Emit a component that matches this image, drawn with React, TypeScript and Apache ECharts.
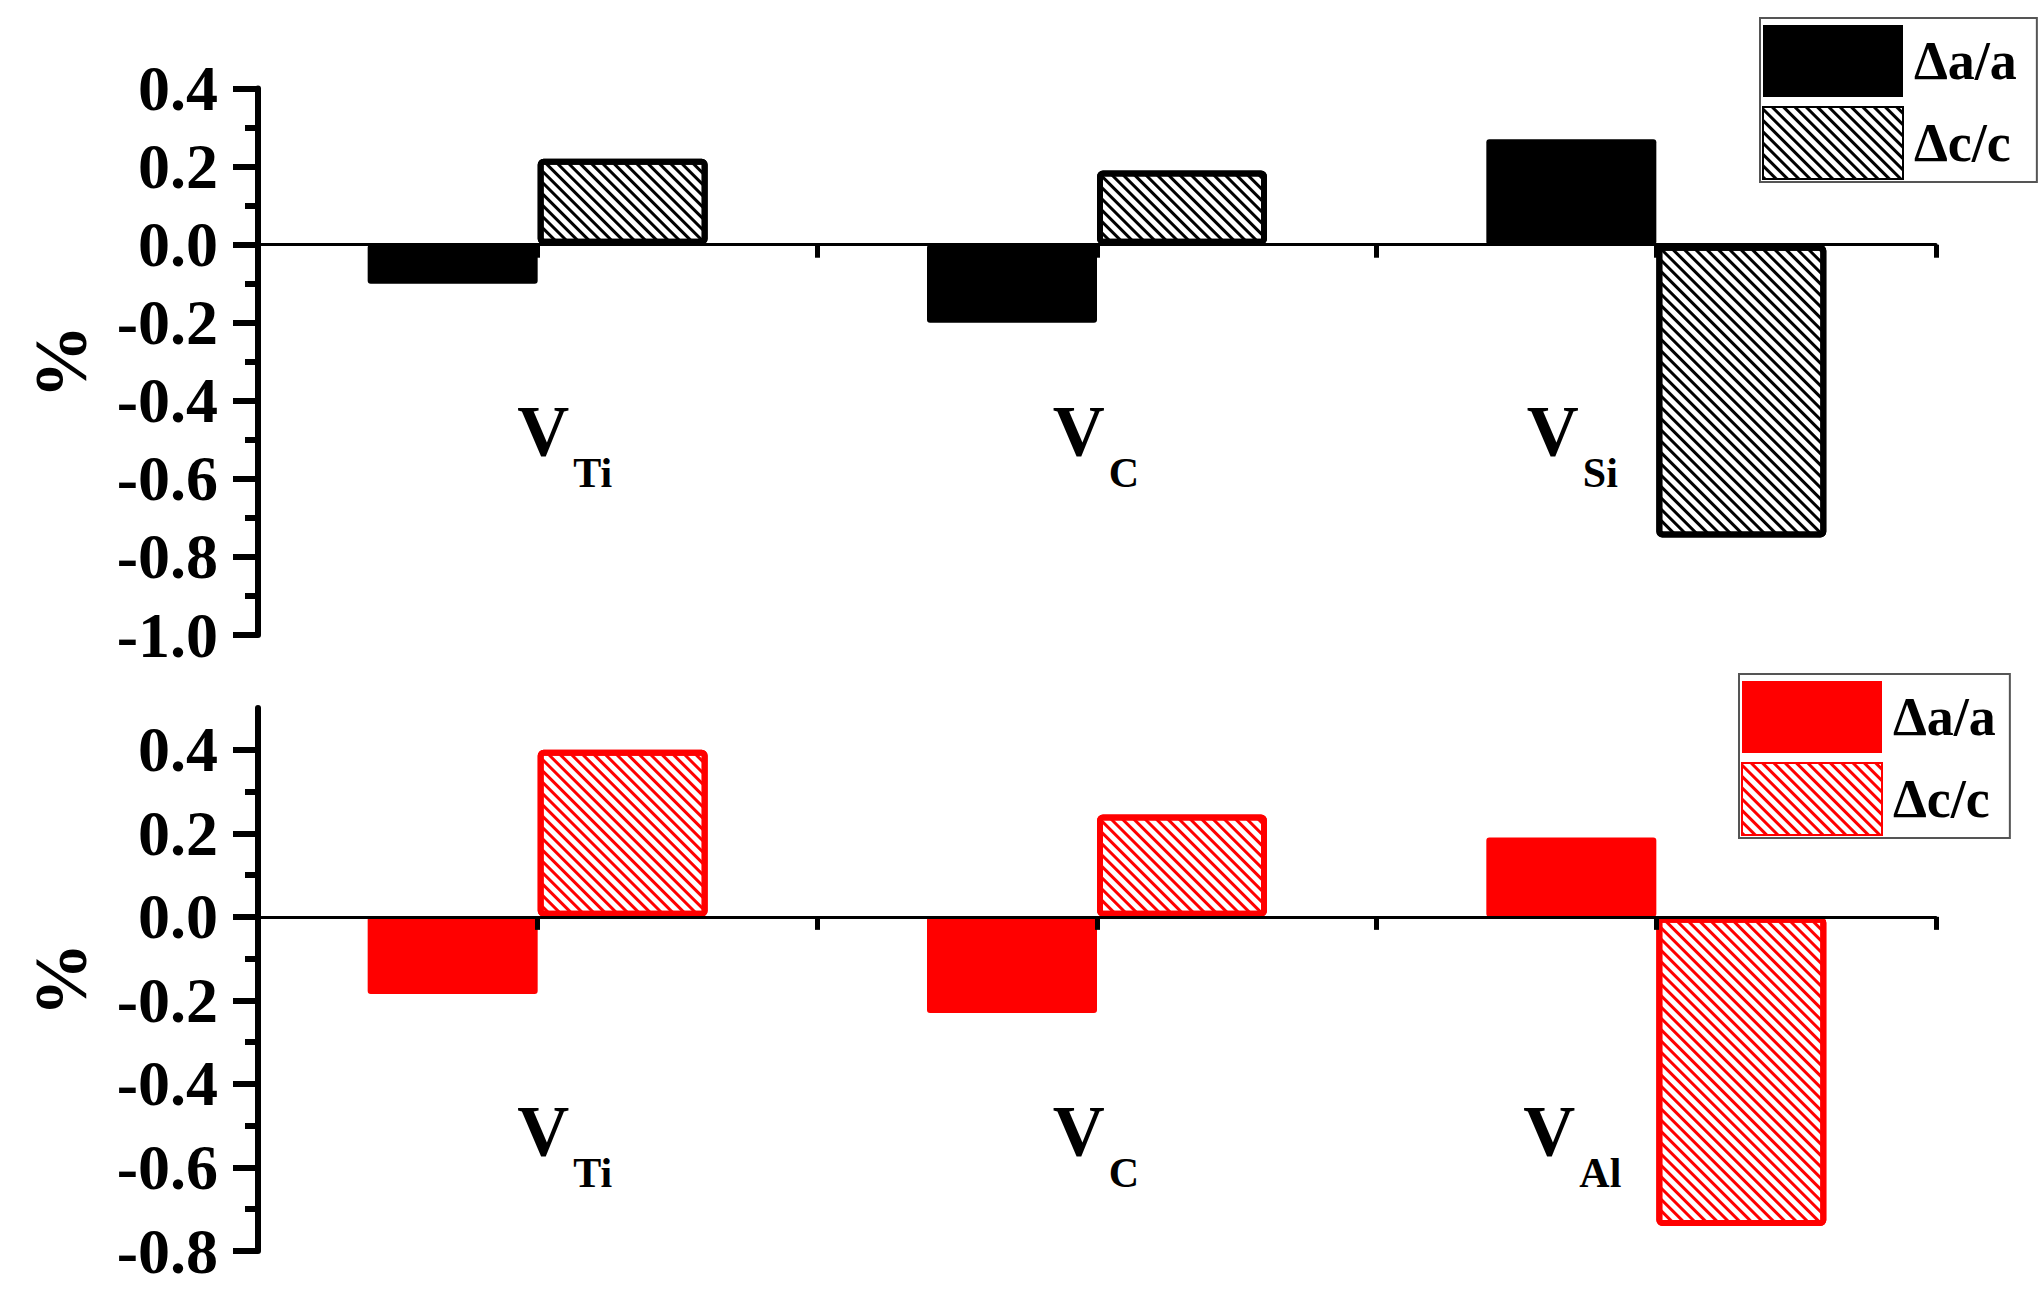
import React, { useEffect, useRef } from "react";
import * as echarts from "echarts";

// ---- data ----
const seriesNames = ["Δa/a", "Δc/c"];
const topCategories = ["Ti", "C", "Si"];
const bottomCategories = ["Ti", "C", "Al"];
const topDeltaA = [-0.1, -0.2, 0.27];
const topDeltaC = [0.22, 0.19, -0.75];
const bottomDeltaA = [-0.185, -0.23, 0.19];
const bottomDeltaC = [0.4, 0.245, -0.74];
const topYMinorTicks = [-0.9, -0.7, -0.5, -0.3, -0.1, 0.1, 0.3];
const bottomYTicks = [-0.8, -0.6, -0.4, -0.2, 0, 0.2, 0.4];
const bottomYMinorTicks = [-0.7, -0.5, -0.3, -0.1, 0.1, 0.3];

// ---- style ----
const FONT = '"Times New Roman", "Liberation Serif", serif';
const RED = "#ff0000";
const BLACK = "#000000";
// per-category label shifts (leading / trailing padding)
const labelPadLeft = [54, 0, 0];
const labelPadRight = [0, 2, 168];

const hatch = (color: string) => ({
  symbol: "rect",
  symbolSize: 1,
  color,
  dashArrayX: [1, 0],
  dashArrayY: [3, 5],
  rotation: Math.PI / 4,
});

const richFor = () => {
  const rich: any = {};
  for (let i = 0; i < 3; i++) {
    rich["v" + i] = {
      fontFamily: FONT,
      fontWeight: "bold",
      fontSize: 72,
      lineHeight: 72,
      color: BLACK,
      verticalAlign: "top",
      padding: [0, 0, 0, labelPadLeft[i]],
    };
    rich["s" + i] = {
      fontFamily: FONT,
      fontWeight: "bold",
      fontSize: 42,
      lineHeight: 42,
      color: BLACK,
      verticalAlign: "top",
      padding: [57, labelPadRight[i], 0, 4],
    };
  }
  return rich;
};

// category axis drawing the zero line
const catAxis = (gridIndex: number, data: string[], yIndex: number) => ({
  type: "category",
  gridIndex,
  data,
  position: "bottom",
  z: 10,
  axisLine: { show: true, onZero: true, onZeroAxisIndex: yIndex, lineStyle: { color: BLACK, width: 3 } },
  axisTick: { show: false },
  splitLine: { show: false },
  axisLabel: { show: false },
});

// category axis at the grid bottom that only carries the labels
const labelAxis = (gridIndex: number, data: string[], margin: number) => ({
  type: "category",
  gridIndex,
  data,
  position: "bottom",
  z: 10,
  axisLine: { show: false, onZero: false },
  axisTick: { show: false },
  splitLine: { show: false },
  axisLabel: {
    interval: 0,
    margin,
    formatter: (v: string, i: number) => `{v${i}|V}{s${i}|${v}}`,
    rich: richFor(),
  },
});

// value axis over the categories for the small downward ticks on the zero line
const tickAxis = (gridIndex: number, yIndex: number) => ({
  type: "value",
  gridIndex,
  position: "bottom",
  min: 0,
  max: 3,
  interval: 0.5,
  z: 10,
  axisLine: { show: false, onZero: true, onZeroAxisIndex: yIndex },
  axisTick: { show: true, length: 13, lineStyle: { color: BLACK, width: 5 } },
  axisLabel: { show: false },
  splitLine: { show: false },
});

const yLabel = {
  fontFamily: FONT,
  fontWeight: "bold",
  fontSize: 64,
  color: BLACK,
  margin: 40,
  formatter: (v: number) => v.toFixed(1),
};

const yName = {
  name: "%",
  nameLocation: "middle",
  nameGap: 160,
  nameRotate: 90,
  nameTextStyle: { fontFamily: FONT, fontWeight: "bold", fontSize: 74, color: BLACK },
};

const minorYAxis = (gridIndex: number, min: number, max: number, values: number[]) => ({
  type: "value",
  gridIndex,
  position: "left",
  offset: 0,
  min,
  max,
  axisLine: { show: false, onZero: false },
  axisTick: { show: true, length: 13, customValues: values, lineStyle: { color: BLACK, width: 6 } },
  axisLabel: { show: false },
  splitLine: { show: false },
});

const legendBase = {
  orient: "vertical",
  icon: "rect",
  itemWidth: 140,
  itemHeight: 72,
  itemGap: 9,
  selectedMode: false,
  backgroundColor: "#fff",
  borderColor: "#555",
  borderWidth: 2,
  borderRadius: 0,
  formatter: (name: string) => name.split("#")[0],
};

const legendText = (padTop: number) => ({
  fontFamily: FONT,
  fontWeight: "bold",
  fontSize: 54,
  color: BLACK,
  padding: [padTop, 0, 0, 6],
});

export default function App() {
  const ref = useRef<HTMLDivElement>(null);

  useEffect(() => {
    if (!ref.current) return;
    const chart = echarts.init(ref.current, undefined, { renderer: "svg" });
    const option: any = {
      animation: false,
      backgroundColor: "#fff",
      textStyle: { fontFamily: FONT },
      grid: [
        { left: 258, right: 108, top: 88.6, bottom: 1302 - 635, outerBoundsMode: "none", containLabel: false },
        { left: 258, right: 108, top: 708, bottom: 1302 - 1251, outerBoundsMode: "none", containLabel: false },
      ],
      legend: [
        {
          ...legendBase,
          left: 1760,
          top: 18,
          padding: [7, 20, 2, 2],
          textStyle: legendText(18),
          data: seriesNames,
        },
        {
          ...legendBase,
          left: 1739,
          top: 674,
          padding: [7, 14, 2, 2],
          textStyle: legendText(8),
          data: seriesNames.map((n) => n + "#2"),
        },
      ],
      xAxis: [
        catAxis(0, topCategories, 0),
        tickAxis(0, 1),
        labelAxis(0, topCategories, -240),
        catAxis(1, bottomCategories, 2),
        tickAxis(1, 3),
        labelAxis(1, bottomCategories, -156),
      ],
      yAxis: [
        {
          type: "value",
          gridIndex: 0,
          position: "left",
          offset: 0,
          min: -1.0,
          max: 0.4,
          interval: 0.2,
          ...yName,
          axisLine: { show: true, onZero: false, lineStyle: { color: BLACK, width: 6 } },
          axisTick: { show: true, length: 25, lineStyle: { color: BLACK, width: 6 } },
          axisLabel: yLabel,
          splitLine: { show: false },
        },
        minorYAxis(0, -1.0, 0.4, topYMinorTicks),
        {
          type: "value",
          gridIndex: 1,
          position: "left",
          offset: 0,
          min: -0.8,
          max: 0.5,
          ...yName,
          axisLine: { show: true, onZero: false, lineStyle: { color: BLACK, width: 6 } },
          axisTick: { show: true, length: 25, customValues: bottomYTicks, lineStyle: { color: BLACK, width: 6 } },
          axisLabel: { ...yLabel, customValues: bottomYTicks },
          splitLine: { show: false },
        },
        minorYAxis(1, -0.8, 0.5, bottomYMinorTicks),
      ],
      series: [
        {
          name: seriesNames[0],
          type: "bar",
          xAxisIndex: 0,
          yAxisIndex: 0,
          data: topDeltaA,
          barWidth: 170,
          barGap: "0%",
          itemStyle: { color: BLACK, borderRadius: 3 },
        },
        {
          name: seriesNames[1],
          type: "bar",
          xAxisIndex: 0,
          yAxisIndex: 0,
          data: topDeltaC,
          barWidth: 170,
          barGap: "0%",
          itemStyle: { color: "#fff", borderColor: BLACK, borderWidth: 6, borderRadius: 3, decal: hatch(BLACK) },
        },
        {
          name: seriesNames[0] + "#2",
          type: "bar",
          xAxisIndex: 3,
          yAxisIndex: 2,
          data: bottomDeltaA,
          barWidth: 170,
          barGap: "0%",
          itemStyle: { color: RED, borderRadius: 3 },
        },
        {
          name: seriesNames[1] + "#2",
          type: "bar",
          xAxisIndex: 3,
          yAxisIndex: 2,
          data: bottomDeltaC,
          barWidth: 170,
          barGap: "0%",
          itemStyle: { color: "#fff", borderColor: RED, borderWidth: 6, borderRadius: 3, decal: hatch(RED) },
        },
      ],
    };
    chart.setOption(option);
    return () => chart.dispose();
  }, []);

  return (
    <div
      ref={ref}
      style={{ position: "fixed", left: 0, top: 0, width: 2044, height: 1302, background: "#fff" }}
    />
  );
}
